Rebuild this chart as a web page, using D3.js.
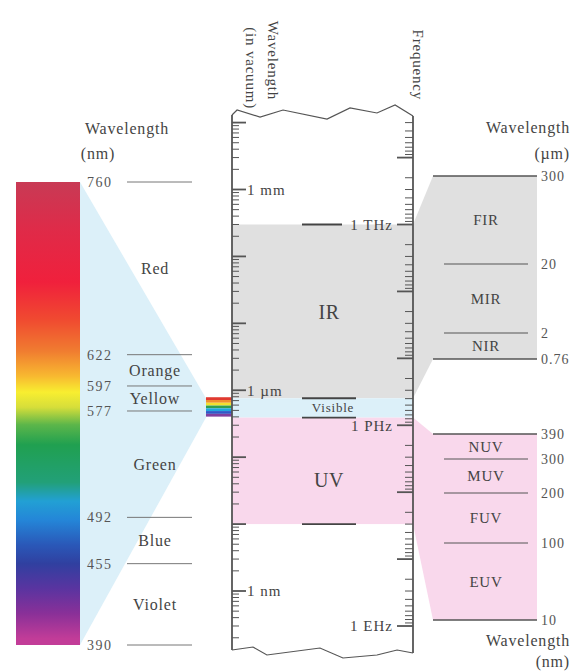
<!doctype html>
<html lang="en">
<head>
    <title>EM spectrum</title>
    <script src="https://d3js.org/d3.v7.min.js"></script>
    <style>
        body { margin: 0; background: #fff; }
        text { font-family: "Liberation Serif", serif; fill: #444; }
    </style>
</head>
<body>
    <script>
       let width = 576, height = 672;

       // visible colours, wavelength in nm
       let visBounds = [760, 622, 597, 577, 492, 455, 390];
       let visNames = ['Red', 'Orange', 'Yellow', 'Green', 'Blue', 'Violet'];

       // infrared sub-bands, um
       let irBounds = [300, 20, 2, 0.76];
       let irLabels = ['300', '20', '2', '0.76'];
       let irNames = ['FIR', 'MIR', 'NIR'];

       // ultraviolet sub-bands, nm
       let uvBounds = [390, 300, 200, 100, 10];
       let uvNames = ['NUV', 'MUV', 'FUV', 'EUV'];

       // bands in the middle column, wavelength in m
       let bandNames = ['IR', 'Visible', 'UV'];
       let bandEdges = [300e-6, 760e-9, 390e-9, 10e-9];

       let wlLabels = [[1e-3, '1 mm'], [1e-6, '1 \u00b5m'], [1e-9, '1 nm']];
       let fqLabels = [[1e12, '1 THz'], [1e15, '1 PHz'], [1e18, '1 EHz']];

       // gradient of the rainbow bar
       let rainbowWl = [760, 720, 680, 650, 625, 605, 592, 580, 566, 550, 520, 505, 490, 470, 455, 435, 415, 395];
       let rainbowCol = ['#c83a55', '#e02a48', '#f0203c', '#f04a30', '#f07c30', '#f8b830', '#f8ee30', '#d6de3a',
                         '#5cb64a', '#20a050', '#22a078', '#22a0d4', '#2486d8', '#2a58b8', '#3040a0', '#5a34a0',
                         '#8a3098', '#c23c98'];
       let stripCol = ['#e03a30', '#f09030', '#f2e030', '#30a050', '#20a8e0', '#3058c8', '#8040a0'];

       const c = 2.998e8;
       let colL = 232, colR = 413, boxL = 433, boxR = 537, barL = 16, barR = 80;

       let yVis = d3.scaleLinear().domain([760, 390]).range([182, 645]);
       let yLam = d3.scaleLog().domain([1e-3, 1e-9]).range([189.5, 591]);
       let yFq = d3.scaleLog().domain([1e12, 1e18]).range([yLam(c / 1e12), yLam(c / 1e18)]);
       let yIR = d3.scaleLog().domain(irBounds).range([176, 264, 333, 359]);
       let yUV = d3.scaleLog().domain(uvBounds).range([434, 459, 493, 543, 620]);

       let svg = d3.select('body').append('svg')
                   .attr('width', width).attr('height', height)

       // gradient
       let grad = svg.append('defs').append('linearGradient').attr('id', 'rainbow')
                     .attr('gradientUnits', 'userSpaceOnUse')
                     .attr('x1', 0).attr('x2', 0).attr('y1', yVis(760)).attr('y2', yVis(390));
       grad.selectAll('stop').data(rainbowWl).enter().append('stop')
           .attr('offset', d => (yVis(d) - yVis(760)) / (yVis(390) - yVis(760)))
           .attr('stop-color', (d, i) => rainbowCol[i]);

       let blue = '#dcf0f9', grey = '#e0e0e0', pink = '#f9d8ec';
       let bandFill = [grey, blue, pink];

       // fans
       let poly = d3.line();
       svg.append('path').attr('fill', blue)
          .attr('d', poly([[barR, yVis(760)], [206, yLam(760e-9)], [206, yLam(390e-9)], [barR, yVis(390)]]) + 'Z');
       svg.append('path').attr('fill', grey)
          .attr('d', poly([[colR, yLam(300e-6)], [boxL, yIR(300)], [boxL, yIR(0.76)], [colR, yLam(760e-9)]]) + 'Z');
       svg.append('path').attr('fill', pink)
          .attr('d', poly([[colR, yLam(390e-9)], [boxL, yUV(390)], [boxL, yUV(10)], [colR, yLam(10e-9)]]) + 'Z');

       // middle bands
       svg.selectAll('rect.band').data(bandNames).enter().append('rect')
          .attr('x', colL).attr('width', colR - colL)
          .attr('y', (d, i) => yLam(bandEdges[i]))
          .attr('height', (d, i) => yLam(bandEdges[i + 1]) - yLam(bandEdges[i]))
          .attr('fill', (d, i) => bandFill[i]);

       // right boxes
       svg.append('rect').attr('x', boxL).attr('width', boxR - boxL)
          .attr('y', yIR(300)).attr('height', yIR(0.76) - yIR(300)).attr('fill', grey);
       svg.append('rect').attr('x', boxL).attr('width', boxR - boxL)
          .attr('y', yUV(390)).attr('height', yUV(10) - yUV(390)).attr('fill', pink);

       // rainbow bar
       svg.append('rect').attr('x', barL).attr('width', barR - barL)
          .attr('y', yVis(760)).attr('height', yVis(390) - yVis(760)).attr('fill', 'url(#rainbow)');

       // small strip
       let yStrip = d3.scaleBand().domain(d3.range(stripCol.length))
                      .range([yLam(760e-9) - 1, yLam(390e-9) - 1]);
       svg.selectAll('rect.strip').data(stripCol).enter().append('rect')
          .attr('x', 206).attr('width', colL - 206)
          .attr('y', (d, i) => yStrip(i)).attr('height', yStrip.bandwidth())
          .attr('fill', d => d);

       // colour boundaries + labels
       svg.selectAll('line.vis').data(visBounds).enter().append('line')
          .attr('x1', 127).attr('x2', 192).attr('y1', d => yVis(d)).attr('y2', d => yVis(d))
          .attr('stroke', '#777').attr('stroke-width', 1);
       svg.selectAll('text.visnum').data(visBounds).enter().append('text')
          .attr('x', 87).attr('y', d => yVis(d)).attr('dy', '0.35em')
          .style('font-size', '14px').style('letter-spacing', '1.5px').style('fill', '#555')
          .text(d => d);
       svg.selectAll('text.visname').data(visNames).enter().append('text')
          .attr('x', 155).attr('y', (d, i) => yVis((visBounds[i] + visBounds[i + 1]) / 2)).attr('dy', '0.35em')
          .attr('text-anchor', 'middle')
          .style('font-size', '16px').style('letter-spacing', '0.8px')
          .text(d => d);

       svg.append('text').attr('x', 127).attr('y', 128).attr('dy', '0.35em').attr('text-anchor', 'middle')
          .style('font-size', '16px').style('letter-spacing', '0.8px').text('Wavelength');
       svg.append('text').attr('x', 98).attr('y', 153).attr('dy', '0.35em').attr('text-anchor', 'middle')
          .style('font-size', '16px').style('letter-spacing', '0.8px').text('(nm)');

       // band boundary marks in middle column
       svg.selectAll('line.edge').data(bandEdges).enter().append('line')
          .attr('x1', 302).attr('x2', (d, i) => i == 0 ? 342 : 356)
          .attr('y1', d => yLam(d)).attr('y2', d => yLam(d))
          .attr('stroke', '#444').attr('stroke-width', 1.8);

       let bandY = [312, yLam(Math.sqrt(760e-9 * 390e-9)), 480];
       svg.selectAll('text.band').data(bandNames).enter().append('text')
          .attr('x', (d, i) => i == 1 ? 333 : 329).attr('y', (d, i) => bandY[i]).attr('dy', '0.35em')
          .attr('text-anchor', 'middle')
          .style('font-size', (d, i) => i == 1 ? '13px' : '20px')
          .style('letter-spacing', (d, i) => i == 1 ? '0.8px' : '0.5px')
          .text(d => d);

       // log ticks
       let yTop = 118, yBot = 646;
       let wlTicks = [], fqTicks = [];
       for (let e = -11; e <= -1; e++) for (let k = 1; k <= 9; k++) wlTicks.push({ v: k * Math.pow(10, e), major: k == 1 });
       for (let e = 9; e <= 19; e++) for (let k = 1; k <= 9; k++) fqTicks.push({ v: k * Math.pow(10, e), major: k == 1 });
       wlTicks = wlTicks.filter(d => yLam(d.v) > yTop && yLam(d.v) < yBot);
       fqTicks = fqTicks.filter(d => yFq(d.v) > yTop && yFq(d.v) < yBot);

       svg.selectAll('line.wlt').data(wlTicks).enter().append('line')
          .attr('x1', colL).attr('x2', d => colL + (d.major ? 14 : 7))
          .attr('y1', d => yLam(d.v)).attr('y2', d => yLam(d.v))
          .attr('stroke', '#555').attr('stroke-width', d => d.major ? 1.8 : 1);
       svg.selectAll('line.fqt').data(fqTicks).enter().append('line')
          .attr('x1', colR).attr('x2', d => colR - (d.major ? 16 : 8))
          .attr('y1', d => yFq(d.v)).attr('y2', d => yFq(d.v))
          .attr('stroke', '#555').attr('stroke-width', d => d.major ? 1.8 : 1);

       svg.selectAll('text.wll').data(wlLabels).enter().append('text')
          .attr('x', colL + 15).attr('y', d => yLam(d[0])).attr('dy', '0.35em')
          .style('font-size', '15px').style('letter-spacing', '1px')
          .text(d => d[1]);
       svg.selectAll('text.fql').data(fqLabels).enter().append('text')
          .attr('x', colR - 20).attr('y', d => yFq(d[0])).attr('dy', '0.35em')
          .attr('text-anchor', 'end')
          .style('font-size', '15px').style('letter-spacing', '1px')
          .text(d => d[1]);

       // column edges with break lines
       let breakTopT = [0, 0.028, 0.155, 0.282, 0.525, 0.652, 0.801, 0.901, 1];
       let breakTopY = [115, 110, 117, 110, 119, 108, 113, 105, 116];
       let breakBotT = [0, 0.116, 0.193, 0.486, 0.613, 0.801, 0.912, 1];
       let breakBotY = [650, 647, 655, 648, 658, 655, 650, 653];
       let xCol = d3.scaleLinear().domain([0, 1]).range([colL, colR]);
       let wave = d3.line().x(d => xCol(d[0])).y(d => d[1]);
       svg.append('path').attr('fill', 'none').attr('stroke', '#555').attr('stroke-width', 1.2)
          .attr('d', wave(breakTopT.map((t, i) => [t, breakTopY[i]])));
       svg.append('path').attr('fill', 'none').attr('stroke', '#555').attr('stroke-width', 1.2)
          .attr('d', wave(breakBotT.map((t, i) => [t, breakBotY[i]])));
       svg.append('line').attr('x1', colL).attr('x2', colL).attr('y1', breakTopY[0]).attr('y2', breakBotY[0])
          .attr('stroke', '#555').attr('stroke-width', 1.8);
       svg.append('line').attr('x1', colR).attr('x2', colR)
          .attr('y1', breakTopY[breakTopY.length - 1]).attr('y2', breakBotY[breakBotY.length - 1])
          .attr('stroke', '#555').attr('stroke-width', 1.8);

       // rotated column titles
       let rot = [['Wavelength', 263, 100], ['(in vacuum)', 241, 109], ['Frequency', 408, 100]];
       svg.selectAll('text.rot').data(rot).enter().append('text')
          .attr('transform', d => `translate(${d[1]}, ${d[2]}) rotate(90)`)
          .attr('text-anchor', 'end').attr('dy', '-0.35em')
          .style('font-size', '15px').style('letter-spacing', '0.8px')
          .text(d => d[0]);

       // right boxes: lines, numbers, names
       function subBands(bounds, labels, names, y) {
           let n = bounds.length;
           svg.selectAll(null).data(bounds).enter().append('line')
              .attr('x1', (d, i) => (i == 0 || i == n - 1) ? boxL : 444)
              .attr('x2', (d, i) => (i == 0 || i == n - 1) ? boxR : 528)
              .attr('y1', d => y(d)).attr('y2', d => y(d))
              .attr('stroke', '#555').attr('stroke-width', (d, i) => (i == 0 || i == n - 1) ? 1.6 : 1);
           svg.selectAll(null).data(bounds).enter().append('text')
              .attr('x', 541).attr('y', d => y(d)).attr('dy', '0.35em')
              .style('font-size', '14px').style('letter-spacing', '1px').style('fill', '#555')
              .text((d, i) => labels[i]);
           svg.selectAll(null).data(names).enter().append('text')
              .attr('x', 486).attr('y', (d, i) => (y(bounds[i]) + y(bounds[i + 1])) / 2).attr('dy', '0.35em')
              .attr('text-anchor', 'middle')
              .style('font-size', '15px').style('letter-spacing', '0.8px')
              .text(d => d);
       }
       subBands(irBounds, irLabels, irNames, yIR);
       subBands(uvBounds, uvBounds.map(String), uvNames, yUV);

       let rightTitles = [['Wavelength', 127], ['(\u00b5m)', 153], ['Wavelength', 640], ['(nm)', 661]];
       svg.selectAll('text.rt').data(rightTitles).enter().append('text')
          .attr('x', 570).attr('y', d => d[1]).attr('dy', '0.35em').attr('text-anchor', 'end')
          .style('font-size', '16px').style('letter-spacing', '0.8px')
          .text(d => d[0]);
    </script>
</body>
</html>
